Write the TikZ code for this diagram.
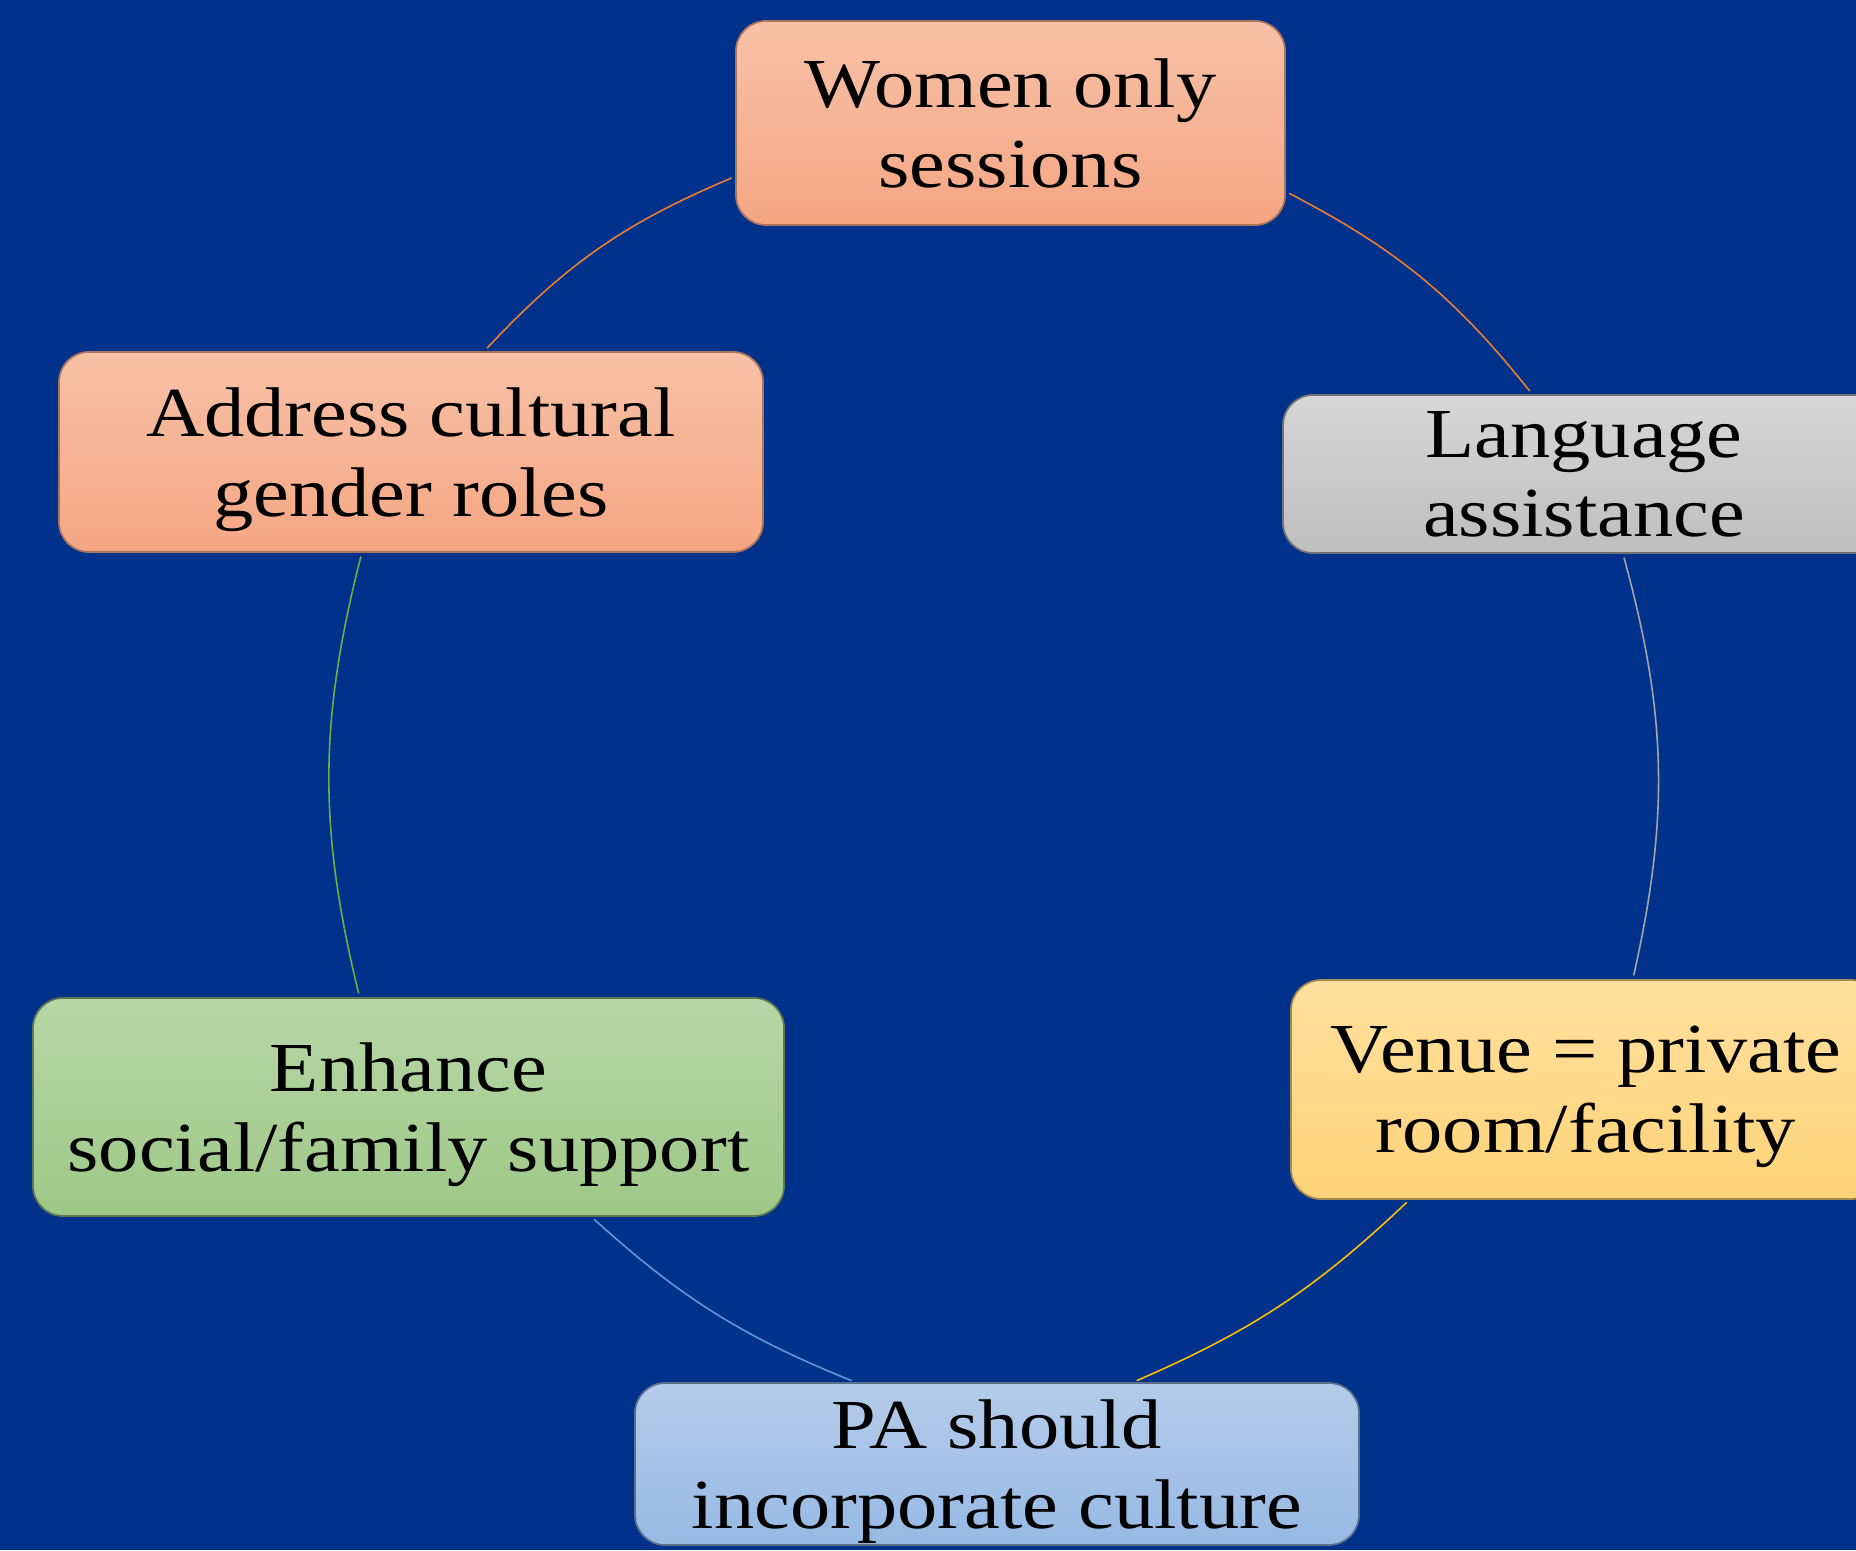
\documentclass[tikz,border=0pt]{standalone}
\usepackage{fontspec}
\setmainfont{Liberation Serif}[FakeStretch=1.145]

% Define: Colours
\definecolor{bgnavy}{RGB}{0,50,140}
\definecolor{peachtop}{RGB}{247,193,167}
\definecolor{peachbot}{RGB}{245,166,131}
\definecolor{greytop}{RGB}{215,215,215}
\definecolor{greybot}{RGB}{190,190,190}
\definecolor{sandtop}{RGB}{255,224,158}
\definecolor{sandbot}{RGB}{255,211,120}
\definecolor{skytop}{RGB}{181,204,234}
\definecolor{skybot}{RGB}{150,185,228}
\definecolor{leaftop}{RGB}{184,215,167}
\definecolor{leafbot}{RGB}{158,200,135}
\definecolor{linkorange}{RGB}{237,125,49}
\definecolor{linkgrey}{RGB}{165,165,165}
\definecolor{linkgold}{RGB}{255,192,0}
\definecolor{linkblue}{RGB}{91,155,213}
\definecolor{linkgreen}{RGB}{112,173,71}

\begin{document}
\begin{tikzpicture}
% Style
[
    line cap=round,
    cyclebox/.style={rounded corners=0.3cm, inner sep=0pt, align=center, text depth=0pt,
        font=\fontsize{20}{22.7}\selectfont, line width=0.5pt},
    peach box/.style={cyclebox, top color=peachtop, bottom color=peachbot, draw=peachbot!70!black},
    grey box/.style={cyclebox, top color=greytop, bottom color=greybot, draw=greybot!60!black},
    sand box/.style={cyclebox, top color=sandtop, bottom color=sandbot, draw=sandbot!65!black},
    sky box/.style={cyclebox, top color=skytop, bottom color=skybot, draw=skybot!60!black},
    leaf box/.style={cyclebox, top color=leaftop, bottom color=leafbot, draw=leafbot!60!black},
    link/.style={line width=0.45pt, shorten <=1.2pt, shorten >=1.2pt}
]

%================================== Prepare ==================================
\useasboundingbox (0,0) rectangle (18.56,15.5);
\fill[bgnavy] (0,0) rectangle (18.56,15.5);

%=================================== Start ===================================
{
    % Draw: Boxes
    \node[peach box, minimum width=5.49cm, minimum height=2.04cm] (women) at (10.105,14.27) {Women only\\sessions};
    \node[grey box, minimum width=6.02cm, minimum height=1.58cm] (lang) at (15.84,10.76) {Language\\assistance};
    \node[sand box, minimum width=5.90cm, minimum height=2.19cm] (venue) at (15.86,4.605) {Venue = private\\room/facility};
    \node[sky box, minimum width=7.24cm, minimum height=1.62cm] (pa) at (9.97,0.86) {PA should\\incorporate culture};
    \node[leaf box, minimum width=7.51cm, minimum height=2.18cm] (enhance) at (4.085,4.43) {Enhance\\social/family support};
    \node[peach box, minimum width=7.04cm, minimum height=2.00cm] (address) at (4.11,10.98) {Address cultural\\gender roles};

    % Draw: Cycle links
    \foreach \src/\sa/\dst/\da/\bend/\col in {women/-14/lang/123/12/linkorange,
        lang/-64/venue/67/14/linkgrey, venue/212/pa/31/10/linkgold,
        pa/150/enhance/-31/10/linkblue, enhance/114/address/244/14/linkgreen,
        address/54/women/191/12/linkorange} {
        \draw[link, draw=\col] (\src.\sa) to[bend left=\bend] (\dst.\da);
    }
}
%==================================== END ====================================

\end{tikzpicture}
\end{document}
